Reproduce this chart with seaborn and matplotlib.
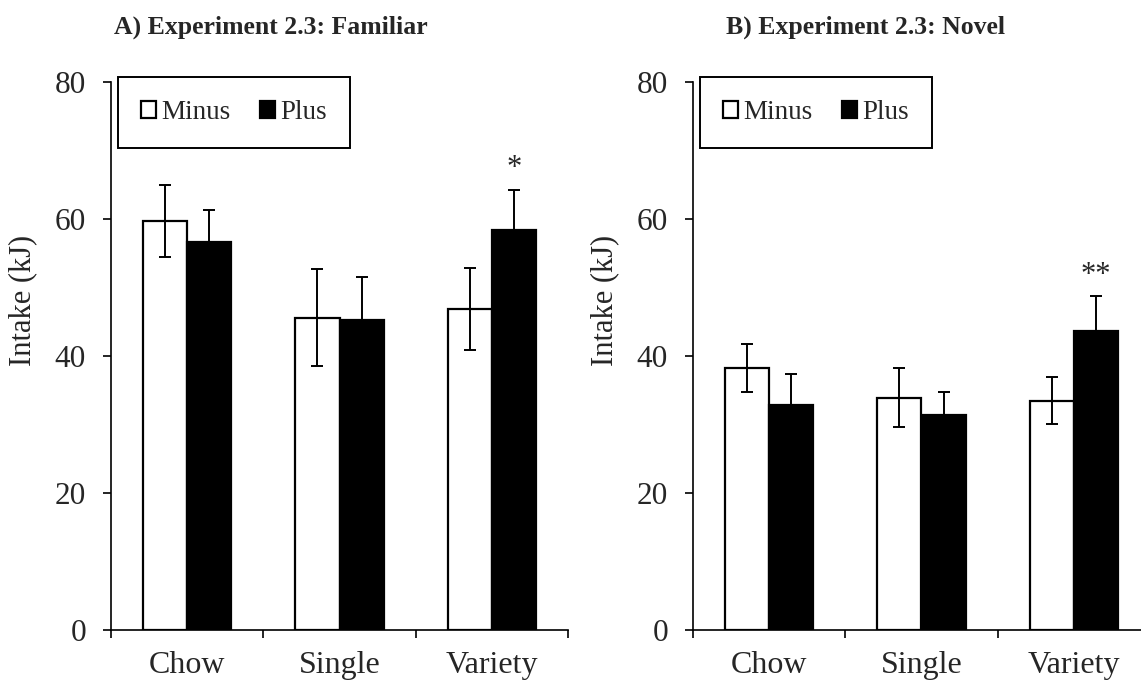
import matplotlib
matplotlib.use("Agg")
import matplotlib.pyplot as plt
import seaborn as sns
import pandas as pd

# Mean intake (kJ) and SEM per food condition
foods = ["Chow", "Single", "Variety"]
groups = ["Minus", "Plus"]

familiar_minus = [59.7, 45.6, 46.9]
familiar_plus = [56.7, 45.3, 58.4]
familiar_minus_se = [5.2, 7.1, 6.0]
familiar_plus_se = [4.6, 6.3, 5.9]

novel_minus = [38.2, 33.9, 33.5]
novel_plus = [32.9, 31.4, 43.7]
novel_minus_se = [3.5, 4.3, 3.4]
novel_plus_se = [4.4, 3.4, 5.0]

# significance markers over the Plus bars
familiar_sig = ["", "", "*"]
novel_sig = ["", "", "**"]

y_ticks = [0, 20, 40, 60, 80]

sns.set_theme(style="white")
plt.rcParams["font.family"] = ["Liberation Serif", "DejaVu Serif"]
plt.rcParams["font.size"] = 22

fig = plt.figure(figsize=(11.41, 6.82), dpi=100)
W, H = 1141, 682


def px_axes(x0, y0, x1, y1):
    return fig.add_axes([x0 / W, 1 - y1 / H, (x1 - x0) / W, (y1 - y0) / H])


ax_a = px_axes(111, 82, 568, 630)
ax_b = px_axes(693, 82, 1150, 630)


def draw_panel(ax, minus, plus, minus_se, plus_se, sig):
    df = pd.DataFrame({
        "food": foods * 2,
        "group": [groups[0]] * 3 + [groups[1]] * 3,
        "intake": list(minus) + list(plus),
    })
    sns.barplot(data=df, x="food", y="intake", hue="group", order=foods,
                hue_order=groups, palette={"Minus": "white", "Plus": "black"},
                edgecolor="black", linewidth=1.6, width=0.58, gap=0,
                errorbar=None, ax=ax, legend=True)
    ses = [minus_se, plus_se]
    for cont, se in zip(ax.containers, ses):
        xs = [b.get_x() + b.get_width() / 2 for b in cont]
        hs = [b.get_height() for b in cont]
        ax.errorbar(xs, hs, yerr=se, fmt="none", ecolor="black",
                    elinewidth=1.4, capsize=4, capthick=1.4, zorder=5)
    plus_bars = ax.containers[1]
    for b, e, lab in zip(plus_bars, plus_se, sig):
        if lab:
            ax.text(b.get_x() + b.get_width() / 2, b.get_height() + e + 1.0,
                    lab, ha="center", va="bottom", fontsize=22)

    ax.set_ylim(0, 80)
    ax.set_xlim(-0.5, 2.5)
    ax.set_yticks(y_ticks)
    ax.set_yticklabels([str(t) for t in y_ticks])
    # category separators as major ticks, names on minor ticks
    ax.set_xticks([-0.5, 0.5, 1.5, 2.5])
    ax.set_xticklabels([])
    ax.set_xticks([0, 1, 2], minor=True)
    ax.set_xticklabels(foods, minor=True)
    ax.tick_params(axis="x", which="major", direction="out", length=6,
                   width=1.2, color="black", bottom=True)
    ax.tick_params(axis="x", which="minor", length=0, pad=15, labelsize=23)
    ax.tick_params(axis="y", direction="out", length=6, width=1.2,
                   color="black", left=True, pad=12, labelsize=22.5)
    ax.set_xlabel("")
    ax.set_ylabel("")
    for side in ["top", "right"]:
        ax.spines[side].set_visible(False)
    for side in ["left", "bottom"]:
        ax.spines[side].set_color("black")
        ax.spines[side].set_linewidth(1.2)
    ax.set_facecolor("white")

    handles, labels = ax.get_legend_handles_labels()
    ax.legend(handles, labels, ncol=2, loc="upper left",
              bbox_to_anchor=(0.015, 1.009), frameon=True, fancybox=False,
              edgecolor="black", framealpha=1, fontsize=19.5,
              handlelength=0.55, handleheight=0.55, handletextpad=0.2,
              columnspacing=1.1, borderpad=0.85, borderaxespad=0)
    leg = ax.get_legend()
    leg.get_frame().set_linewidth(1.4)


draw_panel(ax_a, familiar_minus, familiar_plus, familiar_minus_se,
           familiar_plus_se, familiar_sig)
draw_panel(ax_b, novel_minus, novel_plus, novel_minus_se,
           novel_plus_se, novel_sig)

fig.text(271 / W, 1 - 27 / H, "A) Experiment 2.3: Familiar",
         ha="center", va="center", fontsize=18.5, fontweight="bold")
fig.text(865 / W, 1 - 27 / H, "B) Experiment 2.3: Novel",
         ha="center", va="center", fontsize=18.5, fontweight="bold")

fig.text(23 / W, 1 - 300 / H, "Intake (kJ)", rotation=90,
         ha="center", va="center", fontsize=22)
fig.text(605 / W, 1 - 300 / H, "Intake (kJ)", rotation=90,
         ha="center", va="center", fontsize=22)

fig.savefig("out.png", dpi=100, facecolor="white")
